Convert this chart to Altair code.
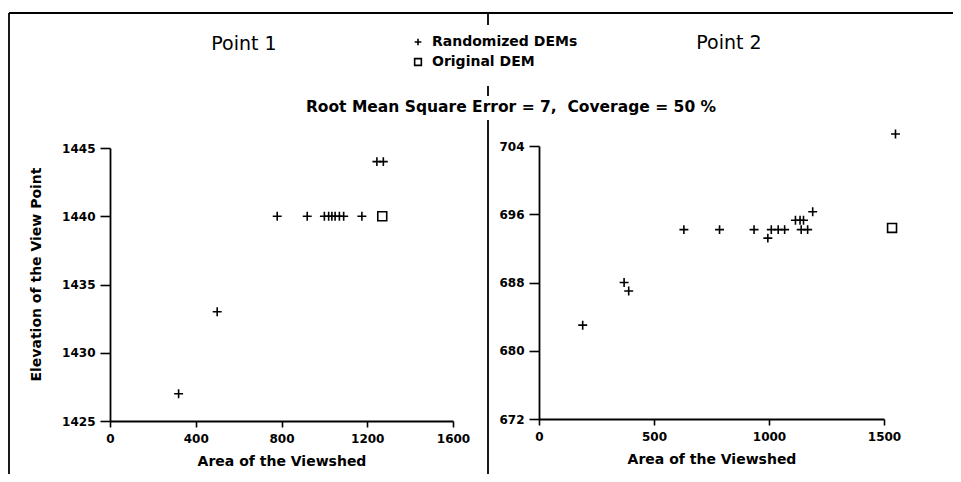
import altair as alt
import pandas as pd

# ---------------- data ----------------
series = ["Randomized DEMs", "Original DEM"]

# Point 1
p1_rand_area = [320, 500, 780, 920, 1000, 1020, 1035, 1050, 1070, 1090, 1175, 1245, 1275]
p1_rand_elev = [1427, 1433, 1440, 1440, 1440, 1440, 1440, 1440, 1440, 1440, 1440, 1444, 1444]
p1_orig_area = [1270]
p1_orig_elev = [1440]

# Point 2
p2_rand_area = [190, 370, 390, 630, 785, 935, 995, 1010, 1040, 1068, 1115, 1135, 1150, 1140, 1168, 1190, 1550]
p2_rand_elev = [683, 688, 687, 694.2, 694.2, 694.2, 693.2, 694.2, 694.2, 694.2, 695.3, 695.3, 695.3, 694.2, 694.2, 696.3, 705.4]
p2_orig_area = [1535]
p2_orig_elev = [694.4]

p1_x_ticks = [0, 400, 800, 1200, 1600]
p1_y_ticks = [1425, 1430, 1435, 1440, 1445]
p2_x_ticks = [0, 500, 1000, 1500]
p2_y_ticks = [672, 680, 688, 696, 704]


def frame(ra, re, oa, oe):
    return pd.DataFrame({
        "area": list(ra) + list(oa),
        "elev": list(re) + list(oe),
        "series": [series[0]] * len(ra) + [series[1]] * len(oa),
    })


df1 = frame(p1_rand_area, p1_rand_elev, p1_orig_area, p1_orig_elev)
df2 = frame(p2_rand_area, p2_rand_elev, p2_orig_area, p2_orig_elev)

FONT = "DejaVu Sans"
PLUS = "M-1,0L1,0M0,-1L0,1"

shape_scale = alt.Scale(domain=series, range=[PLUS, "square"])


def legend():
    return alt.Legend(
        title=None, orient="none", legendX=403, legendY=27,
        labelFont=FONT, labelFontSize=14, labelFontWeight="bold", labelColor="black",
        symbolSize=45, symbolStrokeWidth=1.6, symbolStrokeColor="black",
        symbolFillColor="white", rowPadding=6, padding=0, labelOffset=7,
    )


def axis_common(**kw):
    base = dict(
        grid=False, domainColor="black", domainWidth=1.8, tickColor="black", tickWidth=1.6,
        labelColor="black", labelFont=FONT, labelFontWeight="bold", labelFontSize=12,
        labelFlush=False, labelOverlap=False, titleColor="black", titleFont=FONT,
        titleFontWeight="bold", titleFontSize=14,
    )
    base.update(kw)
    return alt.Axis(**base)


def panel(df, xdom, xrange, ydom, yrange, xticks, yticks, xoff, yoff, ytitle):
    yaxis_kw = dict(orient="left", offset=yoff, values=yticks, tickSize=10, labelPadding=5,
                    format="d")
    if ytitle:
        yaxis_kw.update(title=ytitle, titlePadding=18, titleY=266)
    else:
        yaxis_kw.update(title=None)
    return alt.Chart(df).mark_point(filled=False, color="black", strokeWidth=1.6, opacity=1,
                                    size=80).encode(
        x=alt.X("area:Q", scale=alt.Scale(domain=xdom, range=xrange, nice=False, zero=False),
                axis=axis_common(orient="bottom", offset=xoff, values=xticks, tickSize=6,
                                 labelPadding=6, format="d", title="Area of the Viewshed",
                                 titlePadding=10)),
        y=alt.Y("elev:Q", scale=alt.Scale(domain=ydom, range=yrange, nice=False, zero=False),
                axis=axis_common(**yaxis_kw)),
        shape=alt.Shape("series:N", scale=shape_scale, legend=legend()),
    )


left = panel(df1, [0, 1600], [102, 445], [1425, 1445], [413, 140],
             p1_x_ticks, p1_y_ticks, -53, -102, "Elevation of the View Point")
right = panel(df2, [0, 1500], [531, 876], [672, 704], [411, 138],
              p2_x_ticks, p2_y_ticks, -55, -531, None)

one = alt.Data(values=[{}])


def rule(**enc):
    return alt.Chart(one).mark_rule(color="black", strokeWidth=1.8).encode(
        **{k: alt.value(v) for k, v in enc.items()})


def label(text, x, y, size, weight="normal"):
    return alt.Chart(one).mark_text(font=FONT, fontSize=size, fontWeight=weight, color="black",
                                    align="center", baseline="middle").encode(
        x=alt.value(x), y=alt.value(y), text=alt.value(text))


decor = [
    rule(x=1, y=5, y2=466),
    rule(x=1, x2=945, y=5),
    rule(x=480, y=5, y2=17),
    rule(x=480, y=78, y2=88),
    rule(x=480, y=112, y2=466),
    label("Point 1", 236, 36, 19),
    label("Point 2", 721, 35, 19),
    label("Root Mean Square Error = 7,\u00a0\u00a0Coverage = 50 %", 503, 99, 15.5, "bold"),
]

chart = alt.layer(*decor, left, right).resolve_scale(
    x="independent", y="independent"
).properties(
    width=945, height=466, padding=0,
    autosize=alt.AutoSizeParams(type="none"),
    background="white",
).configure_view(stroke=None)

chart.save("out.html", embed_options={"renderer": "svg", "actions": False})
